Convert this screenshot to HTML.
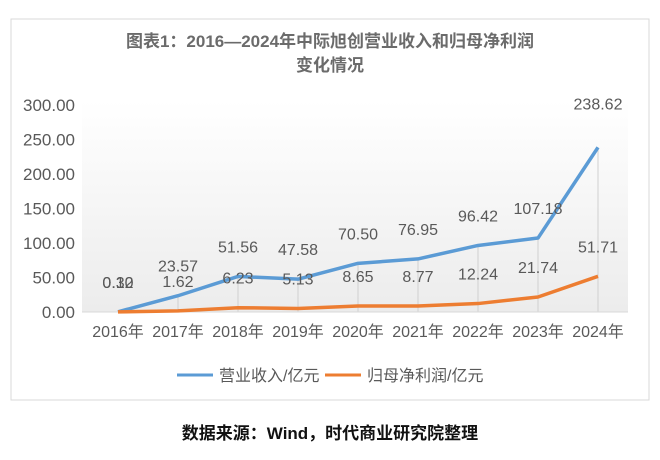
<!DOCTYPE html>
<html><head><meta charset="utf-8"><style>
body{margin:0;background:#fff;width:660px;height:455px;overflow:hidden;font-family:"Liberation Sans","Noto Sans CJK SC",sans-serif}
</style></head><body>
<svg width="660" height="455" viewBox="0 0 660 455" xmlns="http://www.w3.org/2000/svg">
<defs><linearGradient id="bg" x1="0" y1="0" x2="0" y2="1"><stop offset="0" stop-color="#fff"/><stop offset="1" stop-color="#ececec"/></linearGradient></defs>
<rect x="11" y="19" width="638" height="381" fill="#fff" stroke="#d9d9d9"/>
<text x="330" y="47" text-anchor="middle" font-size="17" font-weight="bold" fill="#6b6b6b" font-family="Liberation Sans,Noto Sans CJK SC,sans-serif">图表1：2016—2024年中际旭创营业收入和归母净利润</text>
<text x="330" y="71" text-anchor="middle" font-size="17" font-weight="bold" fill="#6b6b6b" font-family="Liberation Sans,Noto Sans CJK SC,sans-serif">变化情况</text>
<rect x="82" y="100" width="546" height="212" fill="url(#bg)"/>
<g id="g" font-family="Liberation Sans,Noto Sans CJK SC,sans-serif"></g>
<line x1="177" y1="375" x2="213" y2="375" stroke="#5b9bd5" stroke-width="3"/>
<text x="219" y="381" font-size="16" fill="#595959">营业收入/亿元</text>
<line x1="325" y1="375" x2="361" y2="375" stroke="#ed7d31" stroke-width="3"/>
<text x="367" y="381" font-size="16" fill="#595959">归母净利润/亿元</text>
<text x="330" y="439" text-anchor="middle" font-size="17" font-weight="bold" fill="#111">数据来源：Wind，时代商业研究院整理</text>
</svg>
<script>
const categories=["2016年","2017年","2018年","2019年","2020年","2021年","2022年","2023年","2024年"];
const revenue=[0.30,23.57,51.56,47.58,70.50,76.95,96.42,107.18,238.62];
const profit=[0.12,1.62,6.23,5.13,8.65,8.77,12.24,21.74,51.71];
const yTicks=["0.00","50.00","100.00","150.00","200.00","250.00","300.00"];
const NS="http://www.w3.org/2000/svg";
const g=document.getElementById('g');
const X=i=>118+i*60, Y=v=>312-v*0.69;
function mk(t,a){const e=document.createElementNS(NS,t);for(const k in a)e.setAttribute(k,a[k]);g.appendChild(e);return e;}
yTicks.forEach((t,i)=>{const e=mk('text',{x:75,y:Y(parseFloat(t))+6,'text-anchor':'end','font-size':17,fill:'#595959'});e.textContent=t;

});
categories.forEach((c,i)=>{const l=mk('line',{x1:X(i),x2:X(i),y1:Y(revenue[i]),y2:312,stroke:'#d0d0d0','stroke-width':1});


const e=mk('text',{x:X(i),y:337,'text-anchor':'middle','font-size':16,fill:'#595959'});e.textContent=c;

});
const ax=mk('line',{x1:82,x2:628,y1:312,y2:312,stroke:'#d9d9d9','stroke-width':1});


[[revenue,'#5b9bd5','revenue'],[profit,'#ed7d31','profit']].forEach(([d,col,n])=>{
const p=mk('polyline',{points:d.map((v,i)=>X(i)+','+Y(v)).join(' '),fill:'none',stroke:col,'stroke-width':3.5,'stroke-linejoin':'round'});


d.forEach((v,i)=>{const off=(n==='revenue'&&i===d.length-1)?38:24;
const t=mk('text',{x:X(i),y:Y(v)-off,'text-anchor':'middle','font-size':16,fill:'#595959'});t.textContent=v.toFixed(2);

});
});
</script>
</body></html>
